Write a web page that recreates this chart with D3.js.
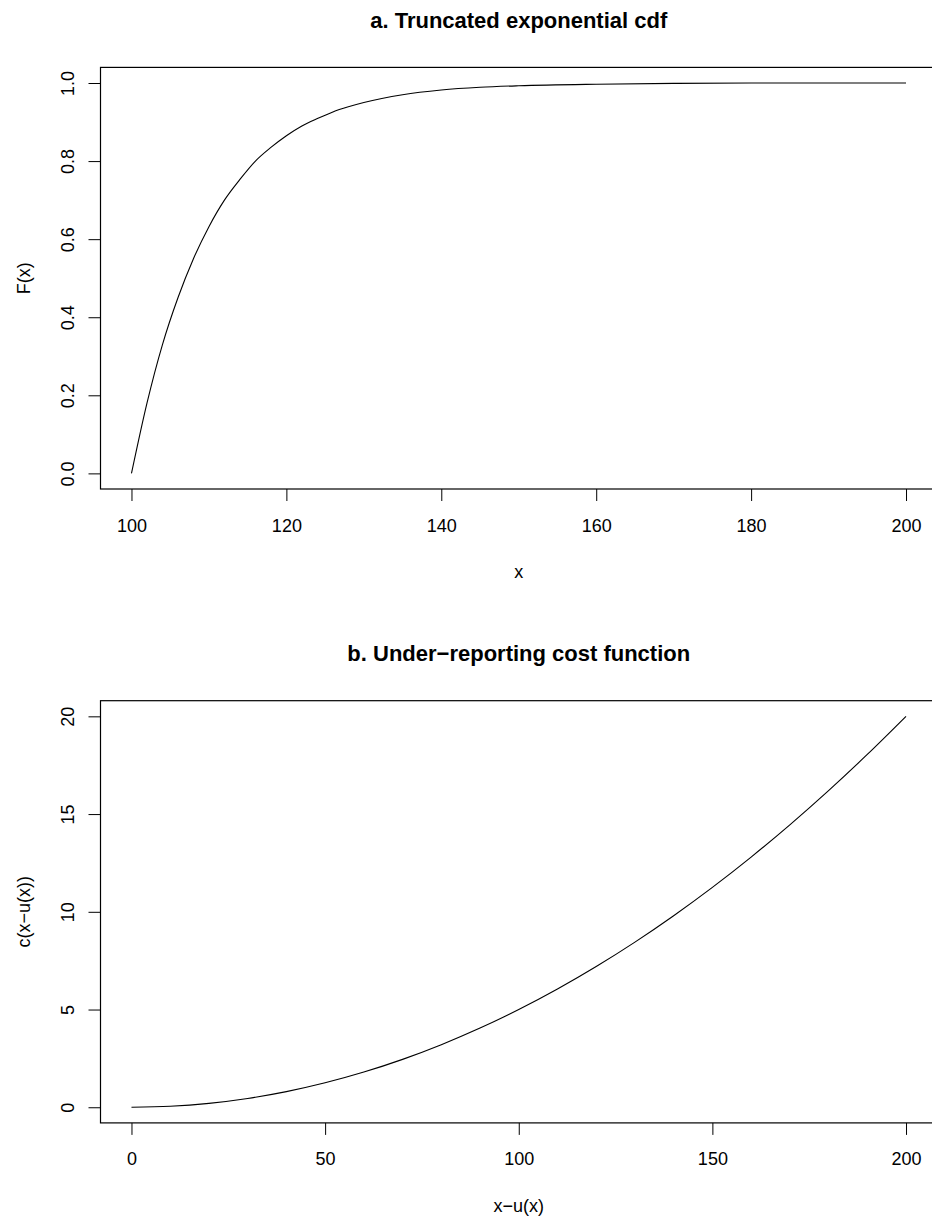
<!DOCTYPE html>
<html>
<head>
<meta charset="utf-8">
<script src="https://cdn.jsdelivr.net/npm/d3@7"></script>
<style>
  body { margin: 0; background: #fff; }
  svg { display: block; font-family: "Liberation Sans", Arial, sans-serif; }
</style>
</head>
<body>
<script>
// panel a: truncated exponential cdf
var cdfX = [100, 102, 104, 106, 108, 110, 112, 114, 116, 118, 120, 122, 124, 126, 128, 130,
            135, 140, 145, 150, 160, 170, 180, 190, 200];
var cdfF = [0, 0.18, 0.33, 0.45, 0.55, 0.632, 0.70, 0.753, 0.80, 0.835, 0.865, 0.89, 0.909, 0.926, 0.939, 0.95,
            0.97, 0.982, 0.989, 0.993, 0.997, 0.999, 1.0, 1.0, 1.0];
var cdfXTicks = [100, 120, 140, 160, 180, 200];
var cdfYTicks = [0, 0.2, 0.4, 0.6, 0.8, 1.0];

// panel b: under-reporting cost
var costD = [0, 10, 20, 30, 40, 50, 60, 70, 80, 90, 100, 110, 120, 130, 140, 150, 160, 170, 180, 190, 200];
var costC = [0, 0.05, 0.2, 0.45, 0.8, 1.25, 1.8, 2.45, 3.2, 4.05, 5.0, 6.05, 7.2, 8.45, 9.8, 11.25,
             12.8, 14.45, 16.2, 18.05, 20];
var costXTicks = [0, 50, 100, 150, 200];
var costYTicks = [0, 5, 10, 15, 20];

var W = 932, H = 1218;
var svg = d3.select("body").append("svg").attr("width", W).attr("height", H);

function panel(opt) {
  var x0 = opt.xdom[0], x1 = opt.xdom[1], y0 = opt.ydom[0], y1 = opt.ydom[1];
  var ex = (x1 - x0) * 0.04, ey = (y1 - y0) * 0.04;
  var left = 100.5, right = 937, top = opt.top, bottom = opt.bottom;

  var x = d3.scaleLinear().domain([x0 - ex, x1 + ex]).range([left, right]);
  var y = d3.scaleLinear().domain([y0 - ey, y1 + ey]).range([bottom, top]);

  var g = svg.append("g");

  var line = d3.line()
    .x(function(d) { return x(d[0]); })
    .y(function(d) { return y(d[1]); })
    .curve(d3.curveMonotoneX);
  g.append("path")
    .datum(d3.zip(opt.xs, opt.ys))
    .attr("d", line)
    .attr("fill", "none")
    .attr("stroke", "#000")
    .attr("stroke-width", 1.1);

  g.append("rect")
    .attr("x", left).attr("y", top)
    .attr("width", right - left).attr("height", bottom - top)
    .attr("fill", "none").attr("stroke", "#000").attr("stroke-width", 1.2);

  var xa = g.append("g").attr("transform", "translate(0," + bottom + ")")
    .call(d3.axisBottom(x).tickValues(opt.xticks).tickSize(12).tickFormat(opt.xfmt));
  xa.select(".domain").remove();
  xa.selectAll("line").attr("stroke", "#000");
  xa.selectAll("text").attr("y", 42.5).attr("dy", 0)
    .attr("font-size", 18).attr("fill", "#000").attr("font-family", null);

  var ya = g.append("g").attr("transform", "translate(" + left + ",0)")
    .call(d3.axisLeft(y).tickValues(opt.yticks).tickSize(12).tickFormat(opt.yfmt));
  ya.select(".domain").remove();
  ya.selectAll("line").attr("stroke", "#000");
  ya.selectAll("text")
    .attr("x", null).attr("dy", null)
    .attr("transform", "translate(-26.5,0) rotate(-90)")
    .attr("text-anchor", "middle")
    .attr("font-size", 18).attr("fill", "#000").attr("font-family", null);

  var cx = (left + right) / 2;
  g.append("text")
    .attr("x", cx).attr("y", top - 39.7)
    .attr("text-anchor", "middle")
    .attr("font-size", 22).attr("font-weight", "bold")
    .text(opt.title);

  g.append("text")
    .attr("x", cx).attr("y", bottom + 88.8)
    .attr("text-anchor", "middle")
    .attr("font-size", 18)
    .text(opt.xlab);

  g.append("text")
    .attr("transform", "translate(29.5," + ((top + bottom) / 2) + ") rotate(-90)")
    .attr("text-anchor", "middle")
    .attr("font-size", 18)
    .text(opt.ylab);
}

panel({
  xs: cdfX, ys: cdfF, xdom: [100, 200], ydom: [0, 1],
  xticks: cdfXTicks, yticks: cdfYTicks,
  xfmt: d3.format("d"), yfmt: d3.format(".1f"),
  top: 67.4, bottom: 489,
  title: "a. Truncated exponential cdf", xlab: "x", ylab: "F(x)"
});

panel({
  xs: costD, ys: costC, xdom: [0, 200], ydom: [0, 20],
  xticks: costXTicks, yticks: costYTicks,
  xfmt: d3.format("d"), yfmt: d3.format("d"),
  top: 700.7, bottom: 1122.9,
  title: "b. Under\u2212reporting cost function", xlab: "x\u2212u(x)", ylab: "c(x\u2212u(x))"
});
</script>
</body>
</html>
